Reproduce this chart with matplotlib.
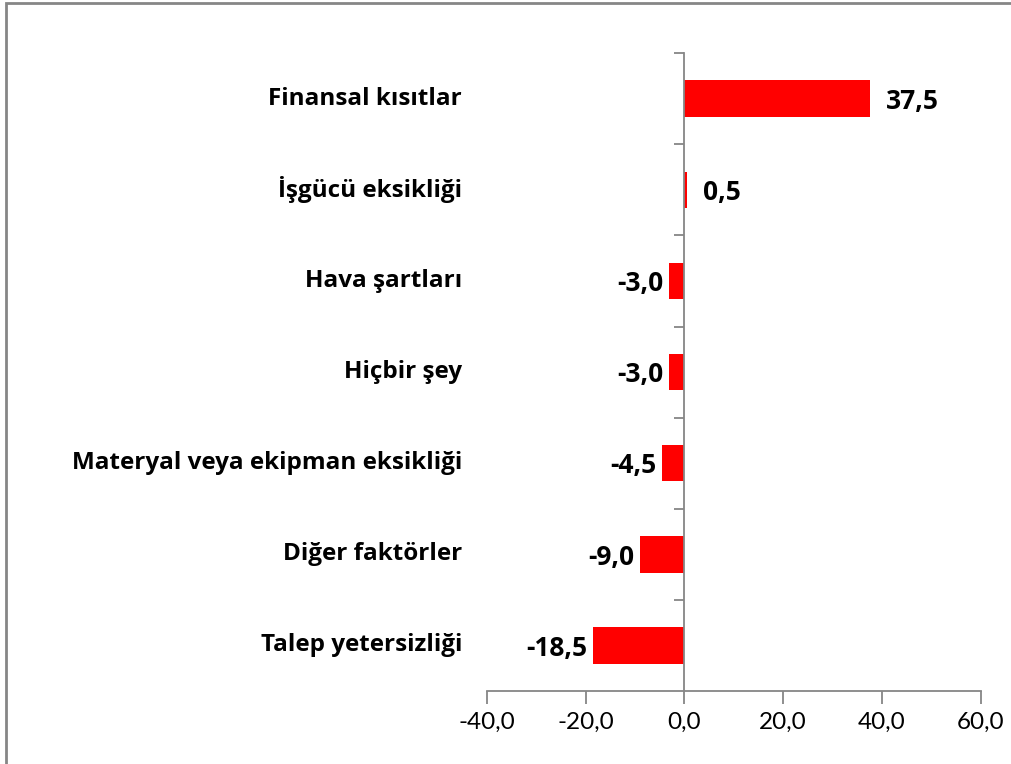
import matplotlib
matplotlib.use("Agg")
import matplotlib.pyplot as plt
import matplotlib.transforms as mtransforms
from matplotlib.patches import Rectangle

categories = ["Finansal kısıtlar", "İşgücü eksikliği", "Hava şartları", "Hiçbir şey",
              "Materyal veya ekipman eksikliği", "Diğer faktörler", "Talep yetersizliği"]
values = [37.5, 0.5, -3.0, -3.0, -4.5, -9.0, -18.5]
xticks = [-40, -20, 0, 20, 40, 60]
xtick_labels = ["-40,0", "-20,0", "0,0", "20,0", "40,0", "60,0"]

plt.rcParams['font.family'] = ['Lato', 'DejaVu Sans']
bold_font = ['Open Sans', 'DejaVu Sans']

fig = plt.figure(figsize=(10.12, 7.64), dpi=100)
ax = fig.add_axes([0.481, 0.0955, 0.488, 0.835])

n = len(categories)
ypos = list(range(n))[::-1]
ax.barh(ypos, values, height=0.4, color="#FF0000")

ax.set_xlim(-40, 60)
ax.set_ylim(-0.5, n - 0.5)
ax.set_xticks(xticks)
ax.set_xticklabels(xtick_labels, fontsize=17.5)

grey = "#868686"
for s in ["top", "right"]:
    ax.spines[s].set_visible(False)
ax.spines["left"].set_position(("data", 0))
ax.spines["left"].set_color(grey)
ax.spines["bottom"].set_color(grey)
ax.spines["left"].set_linewidth(1.3)
ax.spines["bottom"].set_linewidth(1.3)

ax.set_yticks([y + 0.5 for y in range(n)])
ax.set_yticklabels([])
ax.tick_params(axis="y", direction="out", length=7, color=grey, width=1.3)
ax.tick_params(axis="x", direction="out", length=9, color=grey, width=1.3, pad=6)

trans = mtransforms.blended_transform_factory(ax.transAxes, ax.transData)
for y, cat in zip(ypos, categories):
    ax.text(-0.05, y, cat, transform=trans, ha="right", va="center",
            fontsize=17.5, fontweight="bold", family=bold_font)

for y, v in zip(ypos, values):
    lab = f"{v:.1f}".replace(".", ",")
    if v >= 0:
        ax.annotate(lab, (v, y), xytext=(12, -2), textcoords="offset points",
                    ha="left", va="center", fontsize=19, fontweight="bold", family=bold_font)
    else:
        ax.annotate(lab, (v, y), xytext=(-4, -2), textcoords="offset points",
                    ha="right", va="center", fontsize=19, fontweight="bold", family=bold_font)

fig.patches.append(Rectangle((0.006, -0.05), 1.2, 1.046, transform=fig.transFigure,
                             fill=False, edgecolor=grey, linewidth=2))

fig.savefig("out.png", dpi=100)
